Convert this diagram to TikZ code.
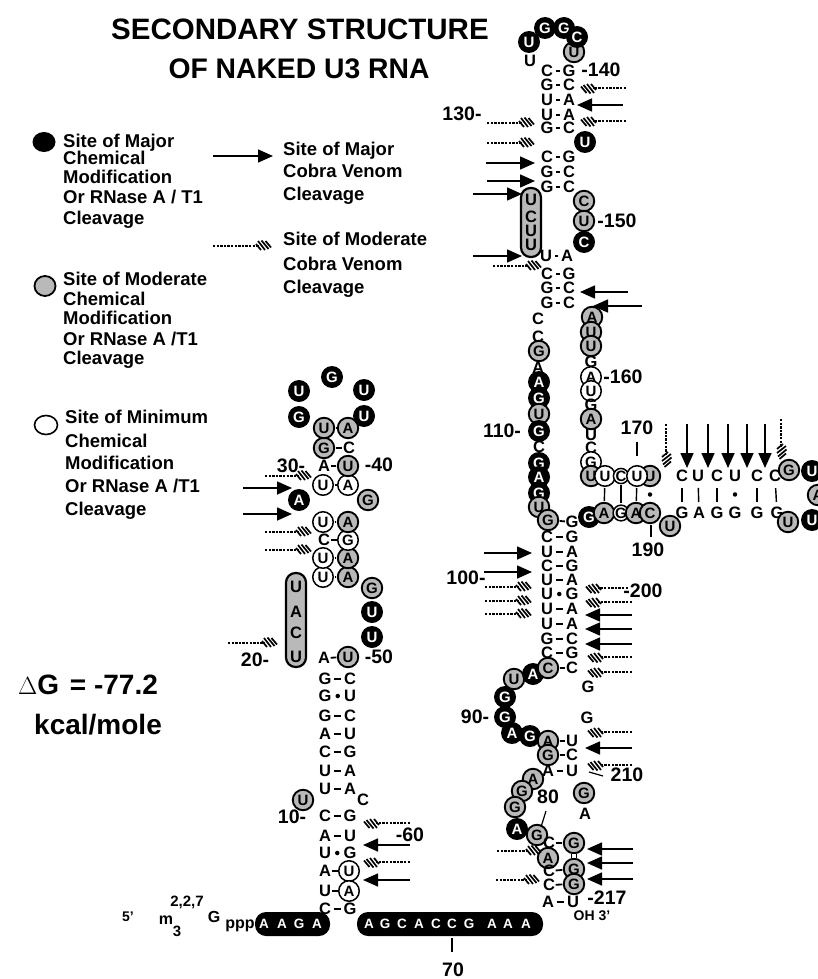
\documentclass[tikz,border=0pt]{standalone}
\usepackage{fontspec}
\setmainfont{Liberation Sans}
\usepackage{tikz}
\usetikzlibrary{arrows.meta,shapes.geometric}
\tikzset{
  base/.style={font=\fontsize{16.5}{16.5}\selectfont\bfseries, inner sep=0pt},
  majsite/.style={circle, fill=black, text=white, minimum size=22pt, inner sep=0pt,
    font=\fontsize{15}{15}\selectfont\bfseries},
  modsite/.style={circle, draw=black, line width=1.9pt, fill=gray!55, minimum size=20.5pt, inner sep=0pt,
    font=\fontsize{15}{15}\selectfont\bfseries},
  minsite/.style={circle, draw=black, line width=1.5pt, fill=white, minimum size=20.5pt, inner sep=0pt,
    font=\fontsize{15}{15}\selectfont\bfseries},
  seqlabel/.style={font=\fontsize{19.5}{19.5}\selectfont\bfseries, inner sep=0pt},
  legtext/.style={font=\fontsize{18.5}{18.5}\selectfont\bfseries, inner sep=0pt, anchor=base west},
  bond/.style={line width=1.8pt, shorten <=2.5pt, shorten >=2.5pt},
  shortbond/.style={line width=1.8pt, shorten <=0.5pt, shorten >=0.5pt},
  pairdot/.style={circle, fill=black, inner sep=0pt, minimum size=4.5pt},
  tick/.style={line width=1.2pt},
  majarrow/.style={line width=1.6pt, -{Triangle[length=15pt,width=13pt]}},
  hatchline/.style={line width=1.2pt, dash pattern=on 2.4pt off 1.2pt, shorten >=13pt},
  hatchstroke/.style={solid, line width=1.7pt, shorten >=0pt},
  pics/hatchtip/.style={code={
    \draw[hatchstroke] (-16,-2) -- (-11,4);
    \draw[hatchstroke] (-14,-5) -- (-7,4);
    \draw[hatchstroke] (-10.5,-5.5) -- (-3.5,3);
    \draw[hatchstroke] (-6.5,-5) -- (-1,1.5);
  }},
  blackpill/.style={fill=black, rounded corners=11pt, minimum height=24pt, inner sep=0pt},
  graypill/.style={draw=black, line width=2.2pt, fill=gray!55, rounded corners=9.5pt, minimum width=20pt, inner sep=0pt},
  pilltext/.style={text=white, font=\fontsize{13.5}{13.5}\selectfont\bfseries, inner sep=0pt},
}
\newcommand{\basepair}[6]{%
  \node[base] (#1l) at (#2,#4) {#5};
  \node[base] (#1r) at (#3,#4) {#6};
  \draw[bond] (#1l) -- (#1r);}
\newcommand{\basedot}[6]{%
  \node[base] (#1l) at (#2,#4) {#5};
  \node[base] (#1r) at (#3,#4) {#6};
  \path (#1l) -- node[pairdot] (#1d) {} (#1r);}

\begin{document}
\begin{tikzpicture}[x=1pt, y=-1pt]
\useasboundingbox (0,0) rectangle (817,979);

% Title
\node[font=\fontsize{29.5}{29.5}\selectfont\bfseries, inner sep=0pt] (title1) at (300,29) {SECONDARY STRUCTURE};
\node[font=\fontsize{28.3}{28.3}\selectfont\bfseries, inner sep=0pt] (title2) at (299,69) {OF NAKED U3 RNA};

% Legend, chemical sites
\node[fill=black, ellipse, minimum width=23pt, minimum height=20pt, inner sep=0pt] (legmaj) at (44,142) {};
\node[legtext] (lga1) at (63,147) {Site of Major};
\node[legtext] (lga2) at (63,164) {Chemical};
\node[legtext] (lga3) at (63,183) {Modification};
\node[legtext] (lga4) at (63,203) {Or RNase A / T1};
\node[legtext] (lga5) at (63,224) {Cleavage};

\node[draw=black, line width=1.8pt, fill=gray!55, ellipse, minimum width=21pt, minimum height=20pt, inner sep=0pt] (legmod) at (45,286) {};
\node[legtext] (lgb1) at (63,285) {Site of Moderate};
\node[legtext] (lgb2) at (63,305) {Chemical};
\node[legtext] (lgb3) at (63,324) {Modification};
\node[legtext] (lgb4) at (63,345) {Or RNase A /T1};
\node[legtext] (lgb5) at (63,364) {Cleavage};

\node[draw=black, line width=1.6pt, fill=white, ellipse, minimum width=23pt, minimum height=19pt, inner sep=0pt] (legmin) at (46,425) {};
\node[legtext] (lgc1) at (65,423) {Site of Minimum};
\node[legtext] (lgc2) at (65,447) {Chemical};
\node[legtext] (lgc3) at (65,469) {Modification};
\node[legtext] (lgc4) at (65,492) {Or RNase A /T1};
\node[legtext] (lgc5) at (65,515) {Cleavage};

% Legend, cobra venom
\draw[majarrow] (213,156) -- (273,156);
\node[legtext] (lgd1) at (283,155) {Site of Major};
\node[legtext] (lgd2) at (283,177) {Cobra Venom};
\node[legtext] (lgd3) at (283,200) {Cleavage};
\draw[hatchline] (213,246) -- (272,246) pic {hatchtip};
\node[legtext] (lge1) at (283,245) {Site of Moderate};
\node[legtext] (lge2) at (283,270) {Cobra Venom};
\node[legtext] (lge3) at (283,293) {Cleavage};

% Free energy
\node[font=\fontsize{28}{28}\selectfont\bfseries, inner sep=0pt, anchor=west] (dg) at (18,685) {$\Delta$G\hspace{3pt} = -77.2};
\node[font=\fontsize{28}{28}\selectfont\bfseries, inner sep=0pt, anchor=west] (kcal) at (34,725) {kcal/mole};

% 5' end
\node[font=\fontsize{14}{14}\selectfont\bfseries, inner sep=0pt] (five) at (128,917) {5'};
\node[font=\fontsize{16}{16}\selectfont\bfseries, inner sep=0pt] (m3) at (166,920) {m};
\node[font=\fontsize{15}{15}\selectfont\bfseries, inner sep=0pt] (m3sub) at (177,931) {3};
\node[font=\fontsize{15}{15}\selectfont\bfseries, inner sep=0pt] (m3sup) at (187,902) {2,2,7};
\node[font=\fontsize{16}{16}\selectfont\bfseries, inner sep=0pt] (capg) at (214,917) {G};
\node[font=\fontsize{16}{16}\selectfont\bfseries, inner sep=0pt] (ppp) at (240,926) {ppp};

% Single stranded pills
\node[blackpill, minimum width=75pt] (pill1) at (292.5,924) {};
\node[pilltext] (p1) at (264,924) {A};
\node[pilltext] (p2) at (282,924) {A};
\node[pilltext] (p3) at (299,924) {G};
\node[pilltext] (p4) at (317,924) {A};
\node[blackpill, minimum width=186pt] (pill2) at (450,924) {};
\node[pilltext] (p5) at (369,924) {A};
\node[pilltext] (p6) at (385,924) {G};
\node[pilltext] (p7) at (402,924) {C};
\node[pilltext] (p8) at (419,924) {A};
\node[pilltext] (p9) at (436,924) {C};
\node[pilltext] (p10) at (452,924) {C};
\node[pilltext] (p11) at (469,924) {G};
\node[pilltext] (p12) at (492,924) {A};
\node[pilltext] (p13) at (508,924) {A};
\node[pilltext] (p14) at (526,924) {A};
\draw[tick] (452,938) -- (452,952);
\node[seqlabel] (n70) at (453,970) {70};

% Left stem, lower part
\basepair{la}{325}{350}{679}{G}{C}
\basedot{lb}{325}{350}{696}{G}{U}
\basepair{lc}{325}{350}{716}{G}{C}
\basepair{ld}{325}{350}{734}{A}{U}
\basepair{le}{325}{350}{752}{C}{G}
\basepair{lf}{325}{350}{771}{U}{A}
\basepair{lg}{325}{350}{789}{U}{A}
\node[base] (lbulge) at (363,800) {C};
\node[modsite] (l10) at (303,800) {U};
\node[seqlabel] (n10) at (292,817) {10-};
\basepair{lh}{325}{350}{816}{C}{G}
\basepair{li}{325}{350}{836}{A}{U}
\basedot{lj}{325}{350}{853}{U}{G}
\node[base] (lkl) at (325,871) {A};
\node[minsite] (lkr) at (349,871) {U};
\draw[shortbond] (lkl) -- (lkr);
\node[base] (lml) at (325,891) {U};
\node[minsite] (lmr) at (349,891) {A};
\draw[shortbond] (lml) -- (lmr);
\basepair{ln}{325}{350}{909}{C}{G}
\node[seqlabel] (n60) at (410,835) {-60};
\draw[hatchline] (410,823) -- (363,823) pic[rotate=180] {hatchtip};
\draw[majarrow] (410,845) -- (363,845);
\draw[hatchline] (410,862) -- (363,862) pic[rotate=180] {hatchtip};
\draw[majarrow] (410,880) -- (363,880);

% Left hairpin
\node[base] (lpl) at (324,658) {A};
\node[modsite] (lpr) at (348,657) {U};
\draw[shortbond] (lpl) -- (lpr);
\node[seqlabel] (n50) at (379,657) {-50};
\node[majsite] (u1) at (372,637) {U};
\node[majsite] (u2) at (372,612) {U};
\node[modsite] (g1) at (372,588) {G};
\node[minsite] (qal) at (323,577) {U};
\node[modsite] (qar) at (348,577) {A};
\draw[shortbond] (qal) -- (qar);
\node[minsite] (qbl) at (323,558) {U};
\node[modsite] (qbr) at (348,558) {A};
\draw[shortbond] (qbl) -- (qbr);
\node[base] (qcl) at (324,540) {C};
\node[minsite] (qcr) at (348,540) {G};
\draw[shortbond] (qcl) -- (qcr);
\node[minsite] (qdl) at (323,522) {U};
\node[modsite] (qdr) at (348,522) {A};
\draw[shortbond] (qdl) -- (qdr);
\node[majsite] (a1) at (299,500) {A};
\node[modsite] (g2) at (368,500) {G};
\node[minsite] (qel) at (323,485) {U};
\node[minsite] (qer) at (348,485) {A};
\draw[shortbond] (qel) -- (qer);
\node[base] (qfl) at (324,466) {A};
\node[modsite] (qfr) at (348,466) {U};
\draw[shortbond] (qfl) -- (qfr);
\node[seqlabel] (n40) at (379,465) {-40};
\node[seqlabel] (n30) at (291,466) {30-};
\node[modsite] (qgl) at (324,448) {G};
\node[base] (qgr) at (349,448) {C};
\draw[shortbond] (qgl) -- (qgr);
\node[modsite] (qhl) at (324,428) {U};
\node[modsite] (qhr) at (348,428) {A};
\draw[shortbond] (qhl) -- (qhr);
\node[majsite] (g3) at (299,417) {G};
\node[majsite] (u3) at (364,416) {U};
\node[majsite] (u4) at (299,391) {U};
\node[majsite] (u5) at (364,390) {U};
\node[majsite] (g4) at (332,377) {G};
\draw[hatchline] (265,476) -- (312,476) pic {hatchtip};
\draw[majarrow] (243,488) -- (292,488);
\draw[majarrow] (243,514) -- (292,514);
\draw[hatchline] (265,532) -- (312,532) pic {hatchtip};
\draw[hatchline] (265,550) -- (312,550) pic {hatchtip};

% Gray pill, position 20
\node[graypill, minimum height=94pt] (pill3) at (296,620) {};
\node[base] (q1) at (296,587) {U};
\node[base] (q2) at (296,612) {A};
\node[base] (q3) at (296,633) {C};
\node[base] (q4) at (296,657) {U};
\draw[hatchline] (228,643) -- (278,643) pic {hatchtip};
\node[seqlabel] (n20) at (255,660) {20-};

% Tall stem, top loop
\node[modsite] (t1) at (574,52) {U};
\node[majsite] (t2) at (529,42) {U};
\node[majsite] (t3) at (545,28) {G};
\node[majsite] (t4) at (564,28) {G};
\node[majsite] (t5) at (577,37) {C};
\node[base] (t6) at (530,61) {U};
\basepair{ta}{547}{569}{71}{C}{G}
\basepair{tb}{547}{569}{85}{G}{C}
\basepair{tc}{547}{569}{100}{U}{A}
\basepair{td}{547}{569}{115}{U}{A}
\basepair{te}{547}{569}{128}{G}{C}
\node[majsite] (t7) at (585,142) {U};
\basepair{tf}{547}{569}{157}{C}{G}
\basepair{tg}{547}{569}{172}{G}{C}
\basepair{th}{547}{569}{187}{G}{C}
\node[modsite] (t8) at (584,201) {C};
\node[modsite] (t9) at (584,221) {U};
\node[majsite] (t10) at (584,242) {C};
\basepair{ti}{546}{567}{256}{U}{A}
\basepair{tj}{547}{569}{274}{C}{G}
\basepair{tk}{547}{569}{288}{G}{C}
\basepair{tm}{547}{569}{303}{G}{C}
\node[seqlabel] (n140) at (601,70) {-140};
\node[seqlabel] (n130) at (462,114) {130-};
\node[seqlabel] (n150) at (617,221) {-150};
\draw[hatchline] (626,88) -- (580,88) pic[rotate=180] {hatchtip};
\draw[majarrow] (623,105) -- (577,105);
\draw[hatchline] (626,121) -- (580,121) pic[rotate=180] {hatchtip};
\draw[hatchline] (487,123) -- (535,123) pic {hatchtip};
\draw[hatchline] (487,143) -- (535,143) pic {hatchtip};
\draw[majarrow] (486,163) -- (535,163);
\draw[majarrow] (487,181) -- (535,181);
\draw[majarrow] (473,194) -- (522,194);
\draw[majarrow] (473,256) -- (522,256);
\draw[hatchline] (493,266) -- (542,266) pic {hatchtip};
\draw[majarrow] (628,292) -- (580,292);
\draw[majarrow] (642,306) -- (593,306);

% Gray pill, upper
\node[graypill, minimum height=69pt] (pill4) at (531,222.5) {};
\node[base] (q5) at (531,200) {U};
\node[base] (q6) at (531,217) {C};
\node[base] (q7) at (531,231) {U};
\node[base] (q8) at (531,245) {U};

% Left strand, 108 to 121
\node[base] (s1) at (538,319) {C};
\node[base] (s2) at (538,337) {C};
\node[modsite] (s3) at (539,351) {G};
\node[base] (s4) at (538,368) {A};
\node[majsite] (s5) at (539,382) {A};
\node[majsite] (s6) at (539,398) {G};
\node[modsite] (s7) at (539,414) {U};
\node[majsite] (s8) at (539,431) {G};
\node[seqlabel] (n110) at (502,431) {110-};
\node[base] (s9) at (539,447) {C};
\node[majsite] (s10) at (539,463) {G};
\node[majsite] (s11) at (539,477) {A};
\node[majsite] (s12) at (539,493) {G};
\node[modsite] (s13) at (539,507) {U};
\node[modsite] (s14) at (548,520) {G};
\node[base] (s15) at (572,522) {G};
\draw[shortbond] (s14) -- (s15);

% Right strand, 155 to 167
\node[modsite] (v1) at (592,317) {A};
\node[modsite] (v2) at (591,332) {U};
\node[modsite] (v3) at (591,346) {U};
\node[base] (v4) at (591,362) {G};
\node[minsite] (v5) at (591,377) {A};
\node[minsite] (v6) at (591,391) {U};
\node[base] (v7) at (591,405) {G};
\node[modsite] (v8) at (591,419) {A};
\node[base] (v9) at (591,435) {U};
\node[base] (v10) at (591,448) {C};
\node[seqlabel] (n160) at (623,377) {-160};

% Side arm
\node[minsite] (v11) at (591,462) {G};
\node[modsite] (w1) at (591,476) {U};
\node[minsite] (w2) at (605,476) {U};
\node[minsite, minimum size=15pt] (w3) at (621,476) {C};
\node[modsite] (w4) at (650,476) {U};
\node[minsite] (w5) at (637,476) {U};
\node[majsite] (x1) at (589,517) {G};
\node[modsite] (x2) at (604,513) {A};
\node[minsite, minimum size=15pt] (x3) at (621,513) {G};
\node[modsite] (x4) at (636,513) {A};
\node[modsite] (x5) at (650,513) {C};
\node[modsite] (x6) at (670,526) {U};
\draw[tick, line width=1.4pt, shorten <=1pt, shorten >=1pt] (w2) -- (x2);
\draw[tick, line width=1.4pt, shorten <=1pt, shorten >=1pt] (w3) -- (x3);
\draw[tick, line width=1.4pt, shorten <=1pt, shorten >=1pt] (w5) -- (x4);
\path (w4) -- node[pairdot] (dota) {} (x5);
\node[seqlabel] (n170) at (637,428) {170};
\draw[tick] (637,442) -- (637,456);
\node[seqlabel] (n190) at (648,550) {190};
\draw[tick] (651,525) -- (651,537);
\node[base] (ya1) at (682,476) {C};
\node[base] (ya2) at (698,476) {U};
\node[base] (ya3) at (717,476) {C};
\node[base] (ya4) at (735,476) {U};
\node[base] (ya5) at (757,476) {C};
\node[base] (ya6) at (775,476) {C};
\node[base] (yb1) at (682,513) {G};
\node[base] (yb2) at (699,513) {A};
\node[base] (yb3) at (717,513) {G};
\node[base] (yb4) at (735,513) {G};
\node[base] (yb5) at (757,513) {G};
\node[base] (yb6) at (777,513) {G};
\draw[tick, line width=1.4pt, shorten <=6pt, shorten >=5pt] (ya1) -- (yb1);
\draw[tick, line width=1.4pt, shorten <=6pt, shorten >=5pt] (ya2) -- (yb2);
\draw[tick, line width=1.4pt, shorten <=6pt, shorten >=5pt] (ya3) -- (yb3);
\path (ya4) -- node[pairdot] (dotb) {} (yb4);
\draw[tick, line width=1.4pt, shorten <=6pt, shorten >=5pt] (ya5) -- (yb5);
\draw[tick, line width=1.4pt, shorten <=6pt, shorten >=5pt] (ya6) -- (yb6);
\node[modsite] (z1) at (789,470) {G};
\node[majsite] (z2) at (812,471) {U};
\node[modsite] (z3) at (818,495) {A};
\node[modsite] (z4) at (788,522) {U};
\node[majsite] (z5) at (812,520) {U};
\draw[hatchline] (666,424) -- (666,468) pic[rotate=-90] {hatchtip};
\draw[majarrow] (687,424) -- (687,468);
\draw[majarrow] (708,424) -- (708,468);
\draw[majarrow] (728,424) -- (728,468);
\draw[majarrow] (747,424) -- (747,468);
\draw[majarrow] (765,424) -- (765,468);
\draw[hatchline] (781,419) -- (781,460) pic[rotate=-90] {hatchtip};

% Lower stem
\basepair{ba}{547}{572}{537}{C}{G}
\basepair{bb}{547}{572}{552}{U}{A}
\basepair{bc}{547}{572}{566}{C}{G}
\basepair{bd}{547}{572}{580}{U}{A}
\basedot{be}{547}{572}{594}{U}{G}
\basepair{bf}{547}{572}{609}{U}{A}
\basepair{bg}{547}{572}{624}{U}{A}
\basepair{bh}{547}{572}{639}{G}{C}
\basepair{bi}{547}{572}{653}{C}{G}
\node[seqlabel] (n100) at (466,578) {100-};
\node[seqlabel] (n200) at (643,591) {-200};
\draw[majarrow] (484,553) -- (532,553);
\draw[majarrow] (484,572) -- (532,572);
\draw[hatchline] (485,587) -- (532,587) pic {hatchtip};
\draw[hatchline] (485,601) -- (532,601) pic {hatchtip};
\draw[hatchline] (485,614) -- (532,614) pic {hatchtip};
\draw[hatchline] (628,588) -- (585,588) pic[rotate=180] {hatchtip};
\draw[hatchline] (632,602) -- (585,602) pic[rotate=180] {hatchtip};
\draw[majarrow] (632,615) -- (585,615);
\draw[majarrow] (632,629) -- (585,629);
\draw[majarrow] (632,644) -- (585,644);
\draw[hatchline] (632,657) -- (587,657) pic[rotate=180] {hatchtip};
\draw[hatchline] (632,672) -- (587,672) pic[rotate=180] {hatchtip};

% Bulge 88 to 96
\node[majsite] (c1) at (530,736) {G};
\node[majsite] (c2) at (512,733) {A};
\node[majsite] (c3) at (505,717) {G};
\node[seqlabel] (n90) at (475,717) {90-};
\node[majsite] (c4) at (505,697) {G};
\node[modsite] (c5) at (514,679) {U};
\node[majsite] (c6) at (533,674) {A};
\node[modsite] (c7) at (548,668) {C};
\node[base] (c8) at (572,668) {C};
\draw[shortbond] (c7) -- (c8);
\node[base] (c9) at (588,687) {G};
\node[base] (c10) at (587,718) {G};
\node[modsite] (d1) at (548,741) {A};
\node[base] (d2) at (572,741) {U};
\draw[shortbond] (d1) -- (d2);
\node[modsite] (d3) at (548,755) {G};
\node[base] (d4) at (572,755) {C};
\draw[shortbond] (d3) -- (d4);
\basepair{da}{548}{572}{771}{A}{U}
\draw[hatchline] (632,732) -- (587,732) pic[rotate=180] {hatchtip};
\draw[majarrow] (632,748) -- (585,748);
\draw[hatchline] (632,765) -- (587,765) pic[rotate=180] {hatchtip};
\draw[tick] (589,772) -- (603,776);
\node[seqlabel] (n210) at (627,775) {210};

% Bottom of the stem
\node[modsite] (e1) at (533,779) {A};
\node[modsite] (e2) at (522,791) {G};
\node[modsite] (e3) at (515,807) {G};
\node[majsite] (e4) at (517,829) {A};
\node[modsite] (e5) at (537,835) {G};
\node[seqlabel] (n80) at (548,797) {80};
\draw[tick] (546,811) -- (541,827);
\node[modsite] (e6) at (584,793) {G};
\node[base] (e7) at (585,814) {A};
\node[base] (f1) at (549,843) {C};
\node[modsite] (f2) at (574,843) {G};
\draw[shortbond] (f1) -- (f2);
\node[modsite] (f3) at (548,858) {A};
\node[base] (f4) at (549,871) {C};
\node[modsite] (f5) at (574,869) {G};
\draw[shortbond] (f4) -- (f5);
\draw[tick, double, double distance=4pt] (f2) -- (f5);
\node[base] (f6) at (549,885) {C};
\node[modsite] (f7) at (574,884) {G};
\draw[shortbond] (f6) -- (f7);
\basepair{fa}{548}{573}{902}{A}{U}
\node[seqlabel] (n217) at (607,898) {-217};
\node[font=\fontsize{14}{14}\selectfont\bfseries, inner sep=0pt] (oh) at (592,916) {OH 3'};
\draw[majarrow] (633,849) -- (587,849);
\draw[majarrow] (633,863) -- (587,863);
\draw[majarrow] (633,879) -- (587,879);
\draw[hatchline] (497,851) -- (542,851) pic {hatchtip};
\draw[hatchline] (496,880) -- (540,880) pic {hatchtip};

\end{tikzpicture}
\end{document}
